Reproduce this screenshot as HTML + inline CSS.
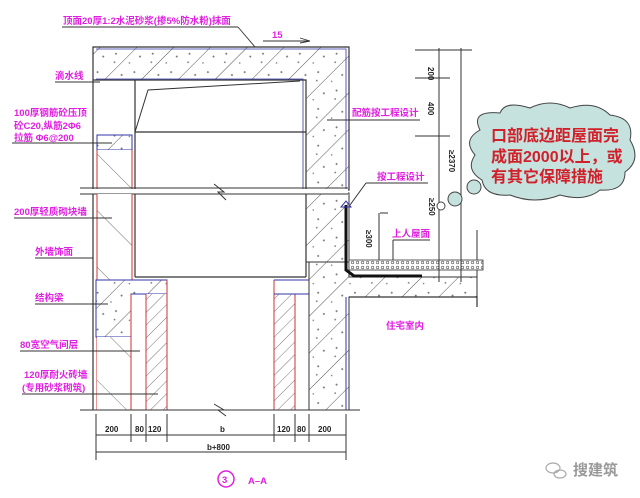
<!DOCTYPE html>
<html><head><meta charset="utf-8"><style>
html,body{margin:0;padding:0;background:#fff}
svg{display:block}
.m{fill:#e020e0;font-family:"Liberation Sans","Noto Sans CJK SC",sans-serif;font-weight:bold;font-size:9.5px}
.k{fill:#222;font-family:"Liberation Sans","Noto Sans CJK SC",sans-serif;font-weight:bold;font-size:8px}
</style></head><body>
<svg width="640" height="498" viewBox="0 0 640 498" xmlns="http://www.w3.org/2000/svg">
<defs>
<pattern id="conc" width="26" height="26" patternUnits="userSpaceOnUse" patternTransform="rotate(-45)">
<rect width="26" height="26" fill="#fff"/>
<line x1="0" y1="0" x2="26" y2="0" stroke="#555" stroke-width="1"/>
<circle cx="7" cy="9" r="1" fill="#777"/><circle cx="18" cy="16" r="1" fill="#777"/><circle cx="11" cy="21" r="0.9" fill="#777"/><circle cx="21" cy="6" r="0.8" fill="#777"/>
</pattern>
<pattern id="brick" width="9" height="9" patternUnits="userSpaceOnUse" patternTransform="rotate(-45)">
<rect width="9" height="9" fill="#fff"/><line x1="0" y1="0" x2="9" y2="0" stroke="#666" stroke-width="0.9"/>
</pattern>
<pattern id="light" width="40" height="40" patternUnits="userSpaceOnUse" patternTransform="rotate(45)">
<rect width="40" height="40" fill="#fff"/><line x1="0" y1="0" x2="40" y2="0" stroke="#777" stroke-width="0.9"/>
</pattern>
<pattern id="layer" width="5" height="5" patternUnits="userSpaceOnUse">
<rect width="5" height="5" fill="#fff"/><circle cx="2.5" cy="2.5" r="1.3" fill="none" stroke="#555" stroke-width="0.6"/>
</pattern>
</defs>

<path d="M93,47 H349 V190 H306 V80 H93 Z" fill="url(#conc)" stroke="#333" stroke-width="1.2"/>
<path d="M96,49 H346 V190 M303,190 V79 H96" fill="none" stroke="#3333aa" stroke-width="0.8"/>
<path d="M306,193 V262 H349 V193 Z" fill="url(#conc)" stroke="#333"/>
<line x1="93" y1="80" x2="93" y2="190" stroke="#333" stroke-width="1.2"/>
<line x1="135" y1="80" x2="135" y2="190" stroke="#333" stroke-width="1.2"/>
<line x1="135" y1="132" x2="306" y2="132" stroke="#333" stroke-width="1.2"/>
<path d="M135,132 L148,90 L300,81" fill="none" stroke="#333" stroke-width="1"/>
<rect x="97" y="135" width="35" height="15" fill="url(#conc)" stroke="#3333aa"/>
<rect x="97" y="150" width="35" height="40" fill="url(#light)"/>
<line x1="97" y1="150" x2="97" y2="190" stroke="#d03030"/>
<line x1="132" y1="150" x2="132" y2="190" stroke="#d03030"/>
<rect x="80" y="189" width="268" height="5" fill="#fff"/>
<line x1="80" y1="188" x2="348" y2="188" stroke="#333"/>
<line x1="80" y1="194" x2="348" y2="194" stroke="#333"/>
<path d="M214,184 L224,192 L218,192 L226,200" fill="none" stroke="#333"/>
<line x1="93" y1="194" x2="93" y2="410" stroke="#333" stroke-width="1.2"/>
<rect x="97" y="194" width="35" height="86" fill="url(#light)"/>
<line x1="97" y1="194" x2="97" y2="410" stroke="#d03030"/>
<line x1="132" y1="194" x2="132" y2="280" stroke="#d03030"/>
<line x1="135" y1="194" x2="135" y2="277" stroke="#333" stroke-width="1.2"/>
<line x1="135" y1="277" x2="306" y2="277" stroke="#333" stroke-width="1.2"/>
<line x1="306" y1="194" x2="306" y2="277" stroke="#333" stroke-width="1.2"/>
<path d="M96,280 H167 V294 H131 V337 H96 Z" fill="url(#conc)" stroke="#3333aa"/>
<rect x="97" y="337" width="34" height="73" fill="url(#light)"/>
<line x1="131" y1="294" x2="131" y2="410" stroke="#d03030"/>
<rect x="146" y="294" width="21" height="116" fill="url(#brick)"/>
<line x1="146" y1="294" x2="146" y2="410" stroke="#d03030"/>
<line x1="167" y1="280" x2="167" y2="410" stroke="#d03030"/>
<rect x="274" y="294" width="21" height="116" fill="url(#brick)"/>
<line x1="274" y1="280" x2="274" y2="410" stroke="#d03030"/>
<line x1="295" y1="294" x2="295" y2="410" stroke="#d03030"/>
<path d="M274,280 H309 V410" fill="none" stroke="#3333aa"/>
<line x1="274" y1="294" x2="309" y2="294" stroke="#3333aa"/>
<path d="M309,262 H349 V277 H477 V297 H349 V410 H309 Z" fill="url(#conc)" stroke="#333"/>
<path d="M346,297 V410" stroke="#3333aa" fill="none"/>
<path d="M349,297 H477 V307" stroke="#333" fill="none" stroke-width="1.2"/>
<line x1="477" y1="230" x2="477" y2="277" stroke="#333"/>
<rect x="349" y="260" width="134" height="10" fill="url(#layer)" stroke="#333" stroke-width="0.8"/>
<path d="M346,205 V270 L354,276 H422" fill="none" stroke="#111" stroke-width="3"/>
<path d="M341,207 L346,201 L351,207 Z" fill="none" stroke="#3333aa"/>
<line x1="80" y1="410" x2="360" y2="410" stroke="#333"/>
<path d="M214,404 L224,410 L218,410 L226,416" fill="#fff" stroke="#333"/>
<g stroke="#333" stroke-width="1">
<line x1="439" y1="48" x2="439" y2="282"/><line x1="461" y1="48" x2="461" y2="282"/>
<line x1="415" y1="50" x2="472" y2="50"/><line x1="415" y1="78" x2="450" y2="78"/><line x1="415" y1="136" x2="450" y2="136"/>
<line x1="380" y1="213" x2="388" y2="213"/><line x1="379" y1="213" x2="379" y2="260"/>
<line x1="393" y1="240" x2="393" y2="260"/><line x1="393" y1="240" x2="430" y2="240"/>
<line x1="327" y1="120" x2="420" y2="120"/><line x1="350" y1="205" x2="366" y2="183"/><line x1="366" y1="183" x2="428" y2="183"/>
</g>
<text class="k" transform="translate(428,67) rotate(90)">200</text>
<text class="k" transform="translate(428,102) rotate(90)">400</text>
<text class="k" transform="translate(449,150) rotate(90)">≥2370</text>
<text class="k" transform="translate(429,198) rotate(90)">≥250</text>
<text class="k" transform="translate(366,230) rotate(90)">≥300</text>
<circle cx="441" cy="206" r="4" fill="#fff" stroke="#444"/>
<circle cx="455" cy="199" r="7" fill="#c6e2de" stroke="#444"/>
<path d="M480,130 Q470,110 500,113 Q505,100 530,108 Q550,98 570,108 Q595,100 610,115 Q635,118 630,140 Q642,160 625,172 Q625,192 600,190 Q585,202 560,195 Q535,205 510,195 Q485,197 482,180 Q465,170 475,155 Q462,140 480,130 Z" fill="#c6e2de" stroke="#444" stroke-width="1"/>
<circle cx="474" cy="187" r="7" fill="#c6e2de" stroke="#444"/>
<g fill="#d0202a" font-family="'Liberation Sans','Noto Sans CJK SC',sans-serif" font-weight="bold" font-size="16">
<text x="491" y="141">口部底边距屋面完</text><text x="491" y="162">成面2000以上，或</text><text x="491" y="182">有其它保障措施</text></g>
<g stroke="#333">
<line x1="96" y1="435" x2="346" y2="435"/><line x1="96" y1="452" x2="346" y2="452"/>
<line x1="96" y1="414" x2="96" y2="460"/><line x1="131" y1="414" x2="131" y2="442"/><line x1="146" y1="414" x2="146" y2="442"/><line x1="167" y1="414" x2="167" y2="442"/><line x1="274" y1="414" x2="274" y2="442"/><line x1="295" y1="414" x2="295" y2="442"/><line x1="309" y1="414" x2="309" y2="442"/><line x1="346" y1="414" x2="346" y2="460"/>
</g>
<g class="k"><text x="105" y="432">200</text><text x="135" y="432">80</text><text x="148" y="432">120</text><text x="220" y="432">b</text><text x="277" y="432">120</text><text x="297" y="432">80</text><text x="318" y="432">200</text><text x="207" y="450">b+800</text></g>
<circle cx="226" cy="479" r="8" fill="#fff" stroke="#e020e0" stroke-width="1.5"/>
<text x="222" y="483" class="m" font-size="11">3</text>
<text x="248" y="484" class="m" font-size="13">A–A</text>
<g stroke="#333" stroke-width="0.9" fill="none">
<line x1="62" y1="27" x2="238" y2="27"/><path d="M238,27 L255,47"/>
<line x1="55" y1="82" x2="100" y2="82"/>
<line x1="12" y1="143" x2="112" y2="143"/>
<line x1="14" y1="218" x2="112" y2="218"/>
<line x1="35" y1="258" x2="93" y2="258"/>
<line x1="35" y1="304" x2="108" y2="304"/>
<line x1="20" y1="351" x2="140" y2="351"/>
<line x1="22" y1="394" x2="158" y2="394"/>
<path d="M263,41 H308 M300,38 L310,41 L300,43"/>
</g>
<text class="m" x="63" y="24">顶面20厚1:2水泥砂浆(掺5%防水粉)抹面</text>
<text class="m" x="272" y="38">15</text>
<text class="m" x="55" y="79">滴水线</text>
<text class="m" x="14" y="116">100厚钢筋砼压顶</text>
<text class="m" x="14" y="129">砼C20,纵筋2Φ6</text>
<text class="m" x="14" y="141">拉筋 Φ6@200</text>
<text class="m" x="14" y="215">200厚轻质砌块墙</text>
<text class="m" x="35" y="255">外墙饰面</text>
<text class="m" x="35" y="301">结构梁</text>
<text class="m" x="20" y="348">80宽空气间层</text>
<text class="m" x="24" y="378">120厚耐火砖墙</text>
<text class="m" x="22" y="391">(专用砂浆砌筑)</text>
<text class="m" x="352" y="116">配筋按工程设计</text>
<text class="m" x="377" y="180">按工程设计</text>
<text class="m" x="392" y="237">上人屋面</text>
<text class="m" x="386" y="329">住宅室内</text>
<text x="573" y="475" fill="#999" font-family="'Liberation Sans','Noto Sans CJK SC',sans-serif" font-size="15" font-weight="bold">搜建筑</text>
<g fill="none" stroke="#aaa" stroke-width="1.2"><ellipse cx="553" cy="468" rx="7" ry="5"/><ellipse cx="560" cy="474" rx="6" ry="4"/></g>
</svg>
</body></html>
